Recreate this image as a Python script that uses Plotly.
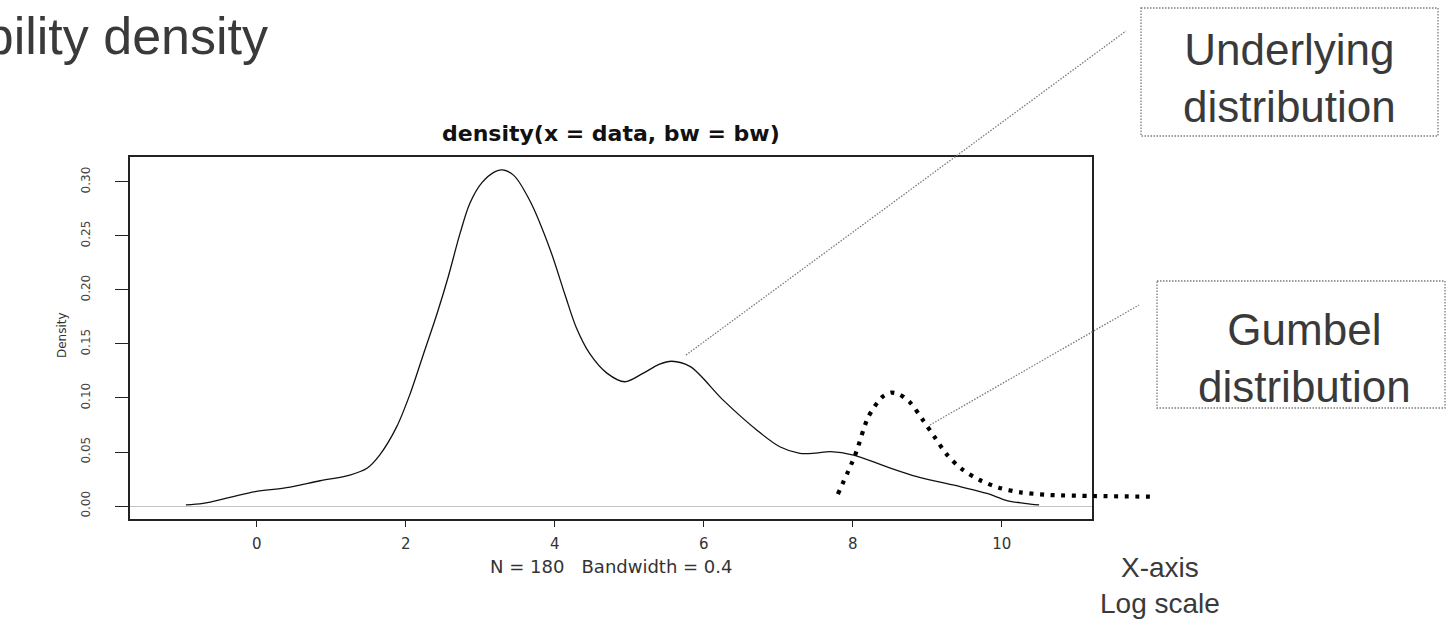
import plotly.graph_objects as go

# ---------------- data ----------------
dens_x = [-0.95, -0.72, -0.36, -0.02, 0.40, 0.85, 1.25, 1.48, 1.65, 1.88, 2.06, 2.24,
          2.42, 2.57, 2.73, 2.86, 3.02, 3.20, 3.30, 3.45, 3.67, 3.94, 4.14, 4.29, 4.47,
          4.70, 4.94, 5.19, 5.40, 5.57, 5.82, 6.26, 6.71, 7.02, 7.29, 7.50, 7.70, 8.01,
          8.45, 8.86, 9.44, 9.80, 10.07, 10.30, 10.50]
dens_y = [0.001, 0.0025, 0.008, 0.0133, 0.017, 0.0234, 0.0287, 0.035, 0.0472, 0.0735,
          0.104, 0.141, 0.178, 0.212, 0.2525, 0.280, 0.299, 0.3095, 0.311, 0.306, 0.282,
          0.237, 0.195, 0.165, 0.141, 0.123, 0.115, 0.123, 0.131, 0.134, 0.129, 0.098,
          0.0704, 0.0549, 0.0488, 0.049, 0.0503, 0.0472, 0.0364, 0.0272, 0.0179, 0.0117,
          0.005, 0.0025, 0.001]

gumbel_x = [7.80, 8.03, 8.21, 8.39, 8.51, 8.62, 8.77, 8.94, 9.10, 9.26, 9.46, 9.70,
            9.96, 10.25, 10.65, 11.23, 12.07]
gumbel_y = [0.0111, 0.047, 0.0827, 0.1006, 0.1049, 0.1035, 0.0957, 0.0796, 0.0636,
            0.0478, 0.0343, 0.0241, 0.0170, 0.0127, 0.0102, 0.0093, 0.0086]

x_ticks = [0, 2, 4, 6, 8, 10]
x_tick_text = ["0", "2", "4", "6", "8", "10"]
y_ticks = [0.00, 0.05, 0.10, 0.15, 0.20, 0.25, 0.30]
y_tick_text = ["0.00", "0.05", "0.10", "0.15", "0.20", "0.25", "0.30"]

plot_title = "density(x = data, bw = bw)"
x_label = "N = 180   Bandwidth = 0.4"
y_label = "Density"
slide_title = "Probability density"
box1_text = "Underlying<br>distribution"
box2_text = "Gumbel<br>distribution"
axis_note = "X-axis<br>Log scale"

# ---------------- layout geometry ----------------
W, H = 1446, 621
PX_L, PX_R, PX_T, PX_B = 130, 1092, 157, 519
X_RANGE = [-1.70, 11.21]
Y_RANGE = [-0.012, 0.323]


def px(x):
    return x / W


def py(y):
    return 1 - y / H


sx = (X_RANGE[1] - X_RANGE[0]) / (PX_R - PX_L)
sy = (Y_RANGE[1] - Y_RANGE[0]) / (PX_B - PX_T)
X2_RANGE = [X_RANGE[0] - PX_L * sx, X_RANGE[1] + (W - PX_R) * sx]
Y2_RANGE = [Y_RANGE[0] - (H - PX_B) * sy, Y_RANGE[1] + PX_T * sy]

SLIDE_FONT = "Liberation Sans, Arial, sans-serif"
R_FONT = "DejaVu Sans, sans-serif"
SLIDE_COLOR = "#3a3a3a"
GREY = "#7a7a7a"

fig = go.Figure()

fig.add_trace(go.Scatter(
    x=dens_x, y=dens_y, mode="lines",
    line=dict(color="#111111", width=1.3, shape="spline", smoothing=0.9),
    xaxis="x", yaxis="y", hoverinfo="skip", showlegend=False))

fig.add_trace(go.Scatter(
    x=gumbel_x, y=gumbel_y, mode="lines",
    line=dict(color="#000000", width=4.2, dash="4px,6.6px", shape="spline", smoothing=0.8),
    xaxis="x2", yaxis="y2", hoverinfo="skip", showlegend=False))

fig.update_layout(
    width=W, height=H,
    margin=dict(l=0, r=0, t=0, b=0),
    paper_bgcolor="white", plot_bgcolor="rgba(0,0,0,0)",
    showlegend=False,
    xaxis=dict(domain=[px(PX_L), px(PX_R)], range=X_RANGE, anchor="y",
               tickvals=x_ticks, ticktext=x_tick_text, ticks="outside", ticklen=6,
               tickwidth=1.3, tickcolor="#222", showline=True, mirror=True,
               linecolor="#222", linewidth=1.5, showgrid=False, zeroline=False,
               tickfont=dict(family=R_FONT, size=15, color="#333"),
               ticklabelstandoff=4, automargin=False),
    yaxis=dict(domain=[py(PX_B), py(PX_T)], range=Y_RANGE, anchor="x",
               tickvals=y_ticks, ticktext=y_tick_text, ticks="outside", ticklen=13,
               tickwidth=1.3, tickcolor="#222", showline=True, mirror=True,
               linecolor="#222", linewidth=1.5, showgrid=False,
               zeroline=True, zerolinecolor="#c4c4c4", zerolinewidth=1.2,
               tickangle=-90, tickfont=dict(family=R_FONT, size=12, color="#444"),
               ticklabelstandoff=20, automargin=False),
    xaxis2=dict(domain=[0, 1], range=X2_RANGE, anchor="y2", visible=False,
                fixedrange=True),
    yaxis2=dict(domain=[0, 1], range=Y2_RANGE, anchor="x2", visible=False,
                fixedrange=True),
)

shapes = []
# leader lines
for (x0, y0, x1, y1) in [(686, 355, 1126, 31), (930, 425, 1139, 305)]:
    shapes.append(dict(type="line", xref="paper", yref="paper",
                       x0=px(x0), y0=py(y0), x1=px(x1), y1=py(y1),
                       line=dict(color=GREY, width=1.3, dash="1.5px,1.5px")))
# label boxes
for (x0, y0, x1, y1) in [(1141, 8, 1438, 136), (1157, 281, 1445, 408)]:
    shapes.append(dict(type="rect", xref="paper", yref="paper",
                       x0=px(x0), y0=py(y0), x1=px(x1), y1=py(y1),
                       line=dict(color=GREY, width=1.3, dash="1.5px,1.5px"),
                       fillcolor="rgba(0,0,0,0)"))
fig.update_layout(shapes=shapes)

ann = []


def add_text(text, x, y, size, family, color, xanchor="center", angle=0, bold=False):
    ann.append(dict(text=f"<b>{text}</b>" if bold else text, xref="paper", yref="paper",
                    x=px(x), y=py(y), xanchor=xanchor, yanchor="middle",
                    showarrow=False, textangle=angle,
                    font=dict(family=family, size=size, color=color)))


add_text(slide_title, 270, 36, 52, SLIDE_FONT, SLIDE_COLOR, xanchor="right")
add_text(box1_text, 1289, 78, 44, SLIDE_FONT, SLIDE_COLOR)
add_text(box2_text, 1304, 358, 44, SLIDE_FONT, SLIDE_COLOR)
add_text(axis_note, 1160, 585, 28, SLIDE_FONT, SLIDE_COLOR)

add_text(plot_title, (PX_L + PX_R) / 2, 133, 22, R_FONT, "#111", bold=True)
add_text(x_label, (PX_L + PX_R) / 2, 566, 18, R_FONT, "#333")
add_text(y_label, 62, 335, 12, R_FONT, "#333", angle=-90)

fig.update_layout(annotations=ann)

fig.write_html("out.html")
